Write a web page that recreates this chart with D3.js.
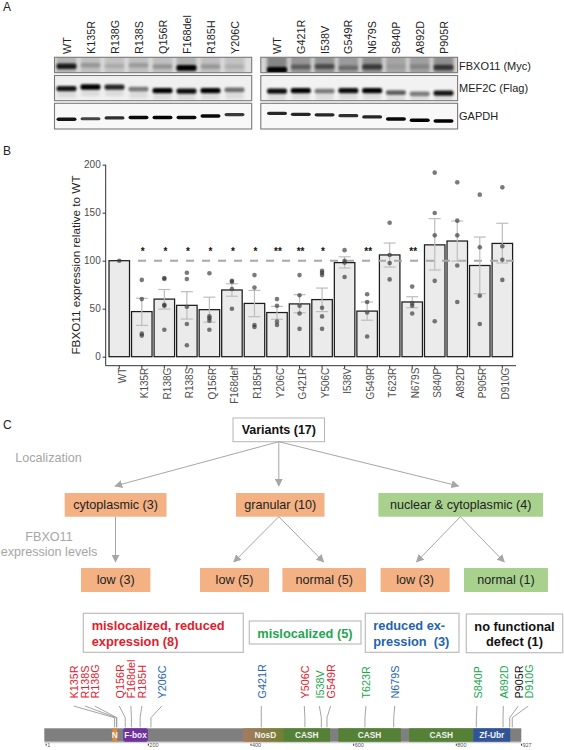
<!DOCTYPE html>
<html><head><meta charset="utf-8">
<script src="https://cdn.jsdelivr.net/npm/d3@7/dist/d3.min.js"></script>
<style>html,body{margin:0;padding:0;background:#fff}svg{display:block}text{font-family:"Liberation Sans",Arial,sans-serif}</style>
</head><body><div id="c"></div>
<script>
// ---------- Panel A data ----------
const lanesLeft = ["WT","K135R","R138G","R138S","Q156R","F168del","R185H","Y206C"];
const lanesRight = ["WT","G421R","I538V","G549R","N679S","S840P","A892D","P905R"];
const blotNames = ["FBXO11 (Myc)","MEF2C (Flag)","GAPDH"];
const fbxoLeft = [.9,.3,.18,.28,.32,1,.3,.15];
const fbxoRight = [1,.5,.6,.42,.7,.08,.25,.72];
const mefLeft = [.92,1,.85,.5,1,.95,1,.55];
const mefRight = [.95,1,.5,.95,1,.62,.5,.92];
const gapdhLeft = [.9,.65,.75,.95,1,.95,.95,.7];
const gapdhRight = [.8,.8,.8,.75,.8,.95,1,1];
const fbxoPosLeft = [.58,.52,.56,.52,.6,.68,.6,.6];
const fbxoPosRight = [.82,.62,.6,.68,.62,.6,.6,.66];
const mefPosLeft = [.52,.46,.46,.54,.6,.62,.6,.57];
const mefPosRight = [.62,.6,.62,.6,.6,.68,.73,.7];
const gapdhPosLeft = [.62,.6,.57,.55,.55,.55,.49,.44];
const gapdhPosRight = [.39,.43,.45,.48,.53,.61,.66,.69];

// ---------- Panel B data ----------
const variants = ["WT","K135R","R138G","R138S","Q156R","F168del","R185H","Y206C","G421R","Y506C","I538V","G549R","T623R","N679S","S840P","A892D","P905R","D910G"];
const means = [100,47,60,53.5,49,69.5,55.5,46,55,59.5,98,47.5,106,57,116.5,120.5,95,118];
const errHigh = [null,60.8,70,67.7,62,76,69,52.4,64.6,71.5,104,57,118.4,62.5,143.8,141.3,124.6,139];
const errLow = [null,32.6,49.6,39.2,36,63,41.7,39,45.8,47,92.4,38,93.4,51,90.3,99.6,65.6,97.6];
const signif = ["","*","*","*","*","*","*","**","**","*","","**","","**","","","",""];
const replicates = [
 [100],[80,60,24,22],[82,81,54,53,28],[87.5,81,52,34,12],[87,42,40,37.5,28],
 [79,78,70.5,50],[85,72,33,31],[60,53,36.5,33],[85,64,53,45,29],[89.6,87.5,85,51,42,29],
 [111,100,98,83],[65,57,46,21],[139.6,106,97.6,80.5],[73,56,53,45],
 [191.7,149.7,126.4,79,37],[181.6,141.7,126.4,95,57],[168.8,114,63.5,34],[176.4,115,101,80]];
const yTicks = [0,50,100,150,200];

// ---------- Panel C data ----------
const rootNode = ["Variants (17)"];
const localization = ["cytoplasmic (3)","granular (10)","nuclear & cytoplasmic (4)"];
const localizationKind = ["o","o","g"];
const expression = ["low (3)","low (5)","normal (5)","low (3)","normal (1)"];
const expressionKind = ["o","o","o","o","g"];
const expressionParent = [0,1,1,2,2];
const mutations = ["K135R","R138S","R138G","Q156R","F168del","R185H","Y206C","G421R","Y506C","I538V","G549R","T623R","N679S","S840P","A892D","P905R","D910G"];
const mutationResidue = [135,138,138,156,168,185,206,421,506,538,549,623,679,840,892,905,910];
const mutationClass = ["r","r","r","r","r","r","b","b","r","g","r","g","b","g","g","k","g"];
const domainNames = ["N","F-box","NosD","CASH","CASH","CASH","Zf-Ubr"];
const domainStart = [131,152,386,464,571,709,834];
const domainEnd = [140,200,464,555,693,834,906];
const residueTicks = [1,200,400,600,800,927];

// ---------- Layout & style (kept apart from the data) ----------
const W=564,H=750;
const svg=d3.select("#c").append("svg").attr("width",W).attr("height",H).attr("viewBox",`0 0 ${W} ${H}`);
const defs=svg.append("defs");
[["b0",.55],["b1",.9],["b2",1.6]].forEach(([id,s])=>defs.append("filter").attr("id",id).attr("x","-30%").attr("y","-100%").attr("width","160%").attr("height","300%").append("feGaussianBlur").attr("stdDeviation",s));
const grad=defs.append("linearGradient").attr("id","nosd");
grad.append("stop").attr("offset","0").attr("stop-color","#a87a5e");
grad.append("stop").attr("offset","1").attr("stop-color","#70802f");

const panelLetter=(t,x,y)=>svg.append("text").attr("x",x).attr("y",y).attr("font-size",12).attr("fill","#222").text(t);
panelLetter("A",3,11);panelLetter("B",3,155);panelLetter("C",3,428.5);

// ---- Panel A ----
const rows=[{y0:57.3,y1:72.7,left:fbxoLeft,right:fbxoRight,pl:fbxoPosLeft,pr:fbxoPosRight,h:5.5,blur:"b1",bgL:"#dedede",bgR:"#d4d4d4",smear:true,gamma:1.5},
            {y0:75.5,y1:100.7,left:mefLeft,right:mefRight,pl:mefPosLeft,pr:mefPosRight,h:5.2,blur:"b1",bgL:"#f0f0f0",bgR:"#f2f2f2",gamma:1.1},
            {y0:103.3,y1:129,left:gapdhLeft,right:gapdhRight,pl:gapdhPosLeft,pr:gapdhPosRight,h:3.4,blur:"b0",bgL:"#f8f8f8",bgR:"#f8f8f8",gamma:.8}];
const blotPanels=[{x0:54.5,x1:251.7,lanes:lanesLeft,scale:d3.scalePoint().domain(d3.range(8)).range([66.5,234.5]),vals:"left",pos:"pl",bg:"bgL",smearMax:.32},
                  {x0:260.8,x1:457.6,lanes:lanesRight,scale:d3.scalePoint().domain(d3.range(8)).range([277,443.5]),vals:"right",pos:"pr",bg:"bgR",smearMax:.62}];
blotPanels.forEach((p,pi)=>{
  const cid="clipP"+pi;
  rows.forEach((r,ri)=>{
    const op=d3.scalePow().exponent(r.gamma).domain([0,1]).range([.05,1]);
    const clip=`${cid}r${ri}`;
    defs.append("clipPath").attr("id",clip).append("rect").attr("x",p.x0).attr("y",r.y0).attr("width",p.x1-p.x0).attr("height",r.y1-r.y0);
    svg.append("rect").attr("x",p.x0).attr("y",r.y0).attr("width",p.x1-p.x0).attr("height",r.y1-r.y0).attr("fill",r[p.bg]);
    const g=svg.append("g").attr("clip-path",`url(#${clip})`);
    const yb=d3.scaleLinear().domain([0,1]).range([r.y0,r.y1]);
    if(r.smear){
      g.selectAll("rect.s").data(r[p.vals]).join("rect").attr("class","s")
       .attr("x",(d,i)=>p.scale(i)-10).attr("width",20).attr("y",r.y0-2).attr("height",r.y1-r.y0+4)
       .attr("fill","#555").attr("opacity",d=>p.smearMax*(.55+.45*d)).attr("filter","url(#b2)");
    }
    if(ri===1){
      g.selectAll("rect.s").data(r[p.vals]).join("rect").attr("class","s")
       .attr("x",(d,i)=>p.scale(i)-9).attr("width",18).attr("y",(d,i)=>yb(r[p.pos][i])+3).attr("height",6)
       .attr("fill","#aaa").attr("opacity",.3).attr("filter","url(#b2)");
    }
    g.selectAll("rect.b").data(r[p.vals]).join("rect").attr("class","b")
     .attr("x",(d,i)=>p.scale(i)-10).attr("width",20)
     .attr("y",(d,i)=>yb(r[p.pos][i])-r.h*(.7+.35*d)/2).attr("height",d=>r.h*(.7+.35*d)).attr("rx",2)
     .attr("fill","#050505").attr("opacity",d=>op(d)).attr("filter",`url(#${r.blur})`);
    svg.append("rect").attr("x",p.x0).attr("y",r.y0).attr("width",p.x1-p.x0).attr("height",r.y1-r.y0)
       .attr("fill","none").attr("stroke","#7a7a7a").attr("stroke-width",1.1);
  });
  svg.selectAll(null).data(p.lanes).join("text")
    .attr("transform",(d,i)=>`translate(${p.scale(i)+4},54) rotate(-90)`)
    .attr("font-size",10.8).attr("fill","#222").text(d=>d);
});
svg.selectAll(null).data(blotNames).join("text").attr("x",459).attr("y",(d,i)=>[69.5,92,120][i])
   .attr("font-size",11).attr("fill","#222").text(d=>d);

// ---- Panel B ----
const x=d3.scaleBand().domain(variants).range([108,513.6]).paddingInner(.09).paddingOuter(.045);
const y=d3.scaleLinear().domain([0,200]).range([356.7,164.7]);
const axisCol="#333",tickText="#4d4d4d";
const gy=svg.append("g").attr("transform","translate(105.7,0)").call(d3.axisLeft(y).tickValues(yTicks).tickSize(3).tickPadding(2));
gy.select(".domain").attr("d",`M0,${y(200)}V365.7`).attr("stroke",axisCol).attr("stroke-width",1);
const gx=svg.append("g").attr("transform","translate(0,365.7)").call(d3.axisBottom(x).tickSize(3).tickPadding(2));
gx.select(".domain").attr("d","M105.7,0H516").attr("stroke",axisCol).attr("stroke-width",1);
[gx,gy].forEach(g=>{g.selectAll(".tick line").attr("stroke",axisCol);g.selectAll("text").attr("fill",tickText).attr("font-family","Liberation Sans");});
gy.selectAll("text").attr("font-size",10);
gx.selectAll("text").attr("font-size",10).attr("text-anchor","end").attr("dy",0).attr("transform","translate(3.5,2) rotate(-90)").attr("x",0).attr("y",3);
svg.append("text").attr("transform","translate(79.5,265) rotate(-90)").attr("text-anchor","middle").attr("font-size",11.7).attr("fill","#222").text("FBXO11 expression relative to WT");
svg.selectAll("rect.bar").data(variants).join("rect").attr("class","bar")
  .attr("x",d=>x(d)).attr("width",x.bandwidth()).attr("y",(d,i)=>y(means[i])).attr("height",(d,i)=>y(0)-y(means[i]))
  .attr("fill","#ebebeb").attr("stroke","#1c1c1c").attr("stroke-width",1.25);
svg.append("line").attr("x1",138).attr("x2",516).attr("y1",y(100)).attr("y2",y(100)).attr("stroke","#a8a8a8").attr("stroke-width",2).attr("stroke-dasharray","8 8");
const eb=svg.append("g").attr("stroke","#bdbdbd").attr("stroke-width",1.2);
variants.forEach((v,i)=>{
  if(errHigh[i]==null)return;
  const c=x(v)+x.bandwidth()/2;
  eb.append("line").attr("x1",c).attr("x2",c).attr("y1",y(errHigh[i])).attr("y2",y(errLow[i]));
  [errHigh[i],errLow[i]].forEach(e=>eb.append("line").attr("x1",c-6).attr("x2",c+6).attr("y1",y(e)).attr("y2",y(e)));
});
variants.forEach((v,i)=>{
  svg.selectAll(null).data(replicates[i]).join("circle")
    .attr("cx",x(v)+x.bandwidth()/2).attr("cy",d=>y(d)).attr("r",2.3).attr("fill","#333").attr("opacity",.65);
});
svg.selectAll("text.sig").data(variants).join("text").attr("class","sig")
  .attr("x",d=>x(d)+x.bandwidth()/2+1).attr("y",254.5).attr("text-anchor","middle").attr("font-size",10).attr("font-weight","bold").attr("fill","#111").text((d,i)=>signif[i]);

// ---- Panel C tree ----
const orange="#f4b183",green="#a9d18e";
const kindFill={o:orange,g:green};
const box=(x0,x1,y0,y1,fill,stroke)=>svg.append("rect").attr("x",x0).attr("y",y0).attr("width",x1-x0).attr("height",y1-y0).attr("fill",fill).attr("stroke",stroke||"none");
const label=(t,cx,cy,o={})=>svg.append("text").attr("x",cx).attr("y",cy).attr("text-anchor",o.anchor||"middle").attr("font-size",o.size||12.6).attr("font-weight",o.weight||"normal").attr("fill",o.fill||"#222").text(t);
defs.append("marker").attr("id","ah").attr("viewBox","0 0 10 10").attr("refX",9).attr("refY",5).attr("markerWidth",8).attr("markerHeight",8).attr("markerUnits","userSpaceOnUse").attr("orient","auto").append("path").attr("d","M0,0L10,5L0,10z").attr("fill","#a6a6a6");
const arrow=(x1,y1,x2,y2)=>svg.append("line").attr("x1",x1).attr("y1",y1).attr("x2",x2).attr("y2",y2).attr("stroke","#a6a6a6").attr("stroke-width",1).attr("marker-end","url(#ah)");

const rootBox=[233,324.5,418,441.7];
box(rootBox[0],rootBox[1],rootBox[2],rootBox[3],"#fff","#b5b5b5");
label(rootNode[0],278.8,434,{weight:"bold",fill:"#111",size:12.5});
const locBox=[[64.7,166.5],[236,324.5],[378.4,543]];
const locArrowX=[115,278.8,458.6],locFromX=[115.5,278.8,460.4];
localization.forEach((t,i)=>{
  box(locBox[i][0],locBox[i][1],493,516.7,kindFill[localizationKind[i]]);
  label(t,(locBox[i][0]+locBox[i][1])/2,509);
  arrow(278.8,441.7,locArrowX[i],486);
});
const expBox=[[81,150.4],[200,269],[282.4,366],[380.6,449.6],[464,548]];
const expArrowX=[115.5,233.8,323.7,416.5,504.3];
expression.forEach((t,i)=>{
  box(expBox[i][0],expBox[i][1],568,592,kindFill[expressionKind[i]]);
  label(t,(expBox[i][0]+expBox[i][1])/2,584);
  arrow(locFromX[expressionParent[i]],516.7,expArrowX[i],562);
});
label("Localization",48.5,462,{fill:"#a6a6a6"});
label("FBXO11",49,541,{fill:"#a6a6a6"});
label("expression levels",49,556,{fill:"#a6a6a6"});

// ---- category boxes ----
const classCol={r:"#e0202c",g:"#22a650",b:"#1f64ad",k:"#111"};
const catBoxes=[
 {b:[83.3,243.3,613.3,652.3],lines:["mislocalized, reduced","expression (8)"],c:"r",x:91.7,a:"start",ys:[630,645.5]},
 {b:[249.3,361,621,644],lines:["mislocalized (5)"],c:"g",x:257.3,a:"start",ys:[637.5]},
 {b:[365.3,459,613.3,652.3],lines:["reduced ex-","pression  (3)"],c:"b",x:373.3,a:"start",ys:[630,645.5]},
 {b:[466.3,562.7,614,652.7],lines:["no functional","defect (1)"],c:"k",x:514.5,a:"middle",ys:[631,646]}];
catBoxes.forEach(d=>{
  box(d.b[0],d.b[1],d.b[2],d.b[3],"#fff","#bdbdbd").attr("stroke-width",1.2);
  d.lines.forEach((t,i)=>label(t,d.x,d.ys[i],{anchor:d.a,weight:"bold",size:12.8,fill:classCol[d.c]}).style("white-space","pre"));
});

// ---- gene bar ----
const res=d3.scaleLinear().domain([1,927]).range([45.7,521]);
const barY0=728.3,barY1=741.7;
svg.append("rect").attr("x",44.3).attr("width",477).attr("y",barY0).attr("height",barY1-barY0).attr("fill","#7f7f7f");
const domCol=["#dd8a3a","#7030a0","url(#nosd)","#558136","#558136","#558136","#2f5597"];
domainNames.forEach((n,i)=>{
  svg.append("rect").attr("x",res(domainStart[i])).attr("width",res(domainEnd[i])-res(domainStart[i])).attr("y",barY0).attr("height",barY1-barY0).attr("fill",domCol[i]).attr("rx",i===1?2:0);
  label(n,(res(domainStart[i])+res(domainEnd[i]))/2+(i===2?2:0),barY1-3.6,{size:8.3,weight:"bold",fill:"#f2f2f2"});
});
svg.append("line").attr("x1",44.3).attr("x2",521).attr("y1",barY1+1).attr("y2",barY1+1).attr("stroke","#c8c8c8");
const gAx=svg.append("g").attr("transform",`translate(0,${barY1+2})`).call(d3.axisBottom(res).tickValues(residueTicks).tickSize(2).tickPadding(0).tickFormat(d3.format("d")));
gAx.select(".domain").remove();
gAx.selectAll("line").attr("stroke","#333");
gAx.selectAll("text").attr("font-size",5.5).attr("fill","#555").attr("text-anchor","start").attr("x",1).attr("dy",".2em").attr("font-family","Liberation Sans");

// ---- mutation labels ----
const labelShift=[-40.8,-31.2,-21.2,-6,-.5,1.7,11,0,-.6,-2,3.7,1,1,.7,.3,8.6,16];
const elbowY=717.7,topY=706,botY=727.3;
mutations.forEach((m,i)=>{
  const bx=res(mutationResidue[i]),lx=bx+labelShift[i];
  const ex=bx+(i<3?i*.4:0);
  svg.append("path").attr("d",`M${lx},${topY}L${ex},${elbowY}L${ex},${botY}`).attr("fill","none").attr("stroke","#9a9a9a").attr("stroke-width",.9);
  svg.append("text").attr("transform",`translate(${lx+4.5},698.5) rotate(-90)`).attr("font-size",10.8).attr("fill",classCol[mutationClass[i]]).text(m);
});
</script></body></html>
